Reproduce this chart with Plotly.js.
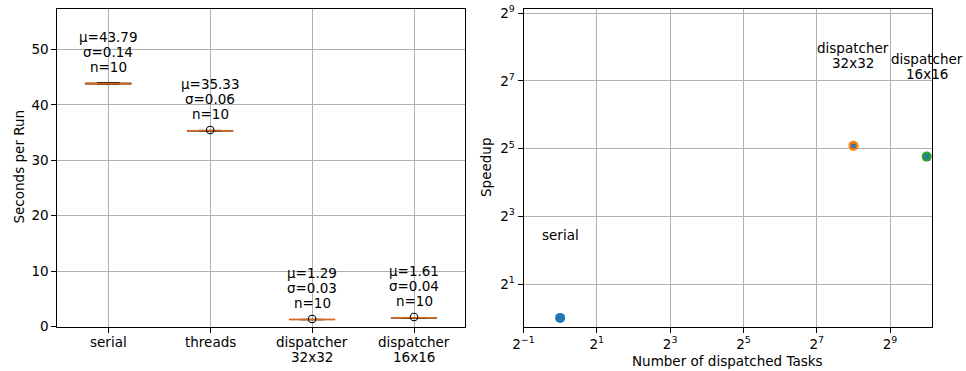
<!DOCTYPE html>
<html>
<head>
<meta charset="utf-8">
<script src="https://cdn.plot.ly/plotly-3.0.1.min.js"></script>
<style>
  html, body { margin: 0; padding: 0; background: #ffffff; }
  #chart { width: 966px; height: 371px; }
</style>
</head>
<body>
<div id="chart"></div>
<script>
// ---- run-time statistics (seconds per run) ----
const categories = ['serial', 'threads', 'dispatcher\n32x32', 'dispatcher\n16x16'];
const meanSec    = [43.79, 35.33, 1.29, 1.61];
const sdSec      = [0.14, 0.06, 0.03, 0.04];
const runs       = [10, 10, 10, 10];
const medianSec  = [43.82, 35.33, 1.30, 1.62];
const q1Sec      = [43.76, 35.29, 1.28, 1.59];
const q3Sec      = [43.90, 35.36, 1.31, 1.63];
const lowSec     = [43.72, 35.25, 1.25, 1.56];
const highSec    = [44.00, 35.40, 1.33, 1.66];
const flierCat   = ['threads', 'dispatcher\n32x32', 'dispatcher\n16x16'];
const flierSec   = [35.45, 1.38, 1.74];

// ---- speedup versus number of dispatched tasks ----
const tasks       = [1, 256, 1024];
const speedup     = [1.0, 33.9, 27.2];
const speedupSd   = [0.0, 0.8, 0.7];
const pointLabels = ['serial', 'dispatcher\n32x32', 'dispatcher\n16x16'];
const timeTicks   = [0, 10, 20, 30, 40, 50];
const xPow2Ticks  = [-1, 1, 3, 5, 7, 9];
const yPow2Ticks  = [1, 3, 5, 7, 9];

const W = 966, H = 371;
const FONT = 'DejaVu Sans, Verdana, sans-serif';
const FS = 13.5;
const LOG2 = Math.log10(2);
const GRID = '#b0b0b0';
const pointColors = ['#1f77b4', '#ff7f0e', '#2ca02c'];

// pixel frame of the two panels
const leftBox  = { x0: 57.3,  x1: 465.0, y0: 9.0, y1: 326.7 };
const rightBox = { x0: 523.5, x1: 931.5, y0: 9.0, y1: 326.7 };
const dom = (b) => ({ x: [b.x0 / W, b.x1 / W], y: [1 - b.y1 / H, 1 - b.y0 / H] });
const dL = dom(leftBox), dR = dom(rightBox);

const pow2 = (e) => '2<sup>' + (e < 0 ? '\u2212' + (-e) : e) + '</sup>';

const traces = [
  // box, whiskers and caps
  {
    type: 'box', xaxis: 'x', yaxis: 'y',
    x: categories, q1: q1Sec, median: medianSec, q3: q3Sec,
    lowerfence: lowSec, upperfence: highSec,
    width: 0.45, whiskerwidth: 0.5,
    line: { color: '#000000', width: 1 },
    fillcolor: 'rgba(0,0,0,0)',
    boxpoints: false, hoverinfo: 'skip', showlegend: false
  },
  // median line
  {
    type: 'box', xaxis: 'x', yaxis: 'y',
    x: categories, q1: medianSec, median: medianSec, q3: medianSec,
    lowerfence: medianSec, upperfence: medianSec,
    width: 0.45, whiskerwidth: 0,
    line: { color: '#dc6a16', width: 1.6 },
    fillcolor: 'rgba(0,0,0,0)',
    boxpoints: false, hoverinfo: 'skip', showlegend: false
  },
  // outliers
  {
    type: 'scatter', mode: 'markers', xaxis: 'x', yaxis: 'y',
    x: flierCat, y: flierSec,
    marker: { symbol: 'circle-open', size: 7.5, color: '#000000', line: { width: 1.1, color: '#000000' } },
    hoverinfo: 'skip', showlegend: false, cliponaxis: false
  }
];

// one coloured dot per configuration
tasks.forEach((t, i) => {
  traces.push({
    type: 'scatter', mode: 'markers', xaxis: 'x2', yaxis: 'y2',
    x: [t], y: [speedup[i]],
    marker: { size: 10, color: pointColors[i] },
    hoverinfo: 'skip', showlegend: false, cliponaxis: false
  });
});
// error bars drawn over the dots
traces.push({
  type: 'scatter', mode: 'markers', xaxis: 'x2', yaxis: 'y2',
  x: tasks, y: speedup,
  marker: { size: 1, color: 'rgba(0,0,0,0)' },
  error_y: { type: 'data', array: speedupSd, visible: true, color: '#1f77b4', thickness: 1.8, width: 2.5 },
  hoverinfo: 'skip', showlegend: false, cliponaxis: false
});

const annotations = [];
const txtFont = { family: FONT, size: FS, color: '#000000' };
// stacked text lines, bottom line at baseShift px above the anchor
function stacked(lines, x, y, xref, yref, baseShift, step) {
  const n = lines.length;
  lines.forEach((txt, k) => {
    annotations.push({
      text: txt, x: x, y: y, xref: xref, yref: yref,
      showarrow: false, xanchor: 'center', yanchor: 'middle',
      yshift: baseShift + (n - 1 - k) * step, font: txtFont
    });
  });
}

// statistics above each box
categories.forEach((c, i) => {
  stacked(['\u03bc=' + meanSec[i].toFixed(2), '\u03c3=' + sdSec[i].toFixed(2), 'n=' + runs[i]],
          i, meanSec[i], 'x', 'y', 16.3, 15.3);
});
// category names under the left panel, one text line each
categories.forEach((c, i) => {
  c.split('\n').forEach((txt, k) => {
    annotations.push({
      text: txt, x: i, xref: 'x', y: 1 - (341.7 + 15 * k) / H, yref: 'paper',
      showarrow: false, xanchor: 'center', yanchor: 'middle', font: txtFont
    });
  });
});
// point names in the speedup panel
tasks.forEach((t, i) => {
  stacked(pointLabels[i].split('\n'), Math.log10(t), Math.log10(speedup[i]), 'x2', 'y2', 83, 15);
});

// axis titles
annotations.push({ text: 'Seconds per Run', xref: 'paper', yref: 'paper', x: 18.5 / W, y: 1 - 167 / H,
  textangle: -90, showarrow: false, xanchor: 'center', yanchor: 'middle', font: txtFont });
annotations.push({ text: 'Speedup', xref: 'paper', yref: 'paper', x: 486 / W, y: 1 - 167 / H,
  textangle: -90, showarrow: false, xanchor: 'center', yanchor: 'middle', font: txtFont });
annotations.push({ text: 'Number of dispatched Tasks', xref: 'paper', yref: 'paper', x: 727.5 / W, y: 1 - 361 / H,
  showarrow: false, xanchor: 'center', yanchor: 'middle', font: txtFont });

const axisCommon = {
  showline: true, mirror: true, linecolor: '#000000', linewidth: 1,
  ticks: 'outside', ticklen: 5, tickwidth: 1, tickcolor: '#000000',
  showgrid: true, gridcolor: GRID, gridwidth: 1, zeroline: false,
  tickfont: txtFont, automargin: false
};

const layout = {
  width: W, height: H,
  margin: { l: 0, r: 0, t: 0, b: 0, pad: 0 },
  paper_bgcolor: '#ffffff', plot_bgcolor: '#ffffff',
  boxmode: 'overlay',
  font: txtFont,
  showlegend: false,
  xaxis: Object.assign({}, axisCommon, {
    domain: dL.x, anchor: 'y', type: 'category',
    categoryorder: 'array', categoryarray: categories,
    range: [-0.5, 3.5], showticklabels: false
  }),
  yaxis: Object.assign({}, axisCommon, {
    domain: dL.y, anchor: 'x', range: [0, 57.27],
    tickmode: 'array', tickvals: timeTicks, ticktext: timeTicks.map(String)
  }),
  xaxis2: Object.assign({}, axisCommon, {
    domain: dR.x, anchor: 'y2', type: 'log',
    range: [-1 * LOG2, 10.13 * LOG2],
    tickmode: 'array', tickvals: xPow2Ticks.map(e => Math.pow(2, e)), ticktext: xPow2Ticks.map(pow2)
  }),
  yaxis2: Object.assign({}, axisCommon, {
    domain: dR.y, anchor: 'x2', type: 'log',
    range: [-0.26 * LOG2, 9.127 * LOG2],
    tickmode: 'array', tickvals: yPow2Ticks.map(e => Math.pow(2, e)), ticktext: yPow2Ticks.map(pow2)
  }),
  annotations: annotations
};

Plotly.newPlot('chart', traces, layout, { staticPlot: true, displayModeBar: false });
</script>
</body>
</html>
